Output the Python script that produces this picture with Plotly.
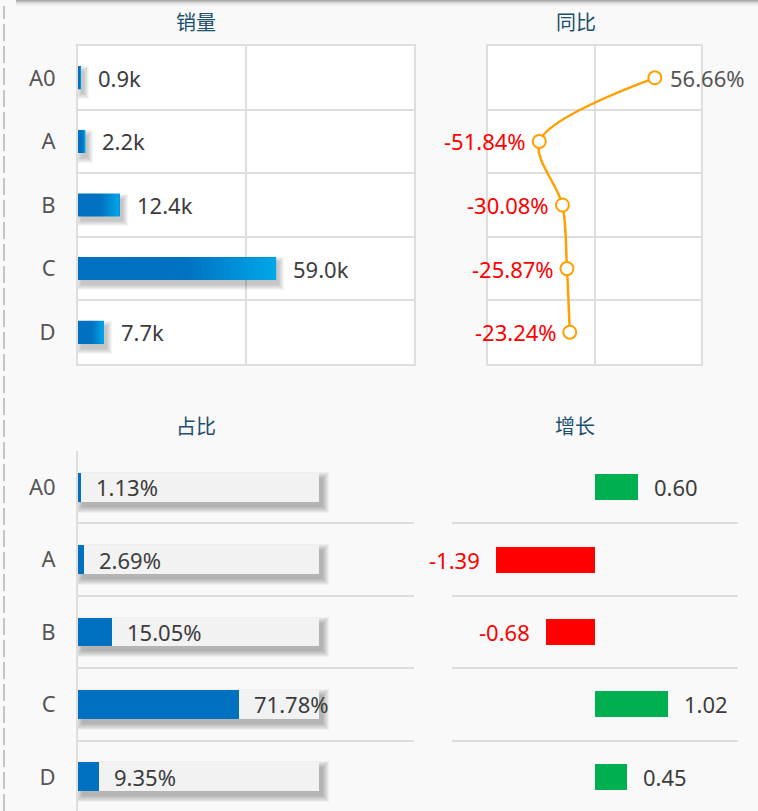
import plotly.graph_objects as go

# ---- data -------------------------------------------------------------
categories = ["A0", "A", "B", "C", "D"]
sales_k = [0.9, 2.2, 12.4, 59.0, 7.7]            # 销量 (thousands)
yoy_pct = [56.66, -51.84, -30.08, -25.87, -23.24]  # 同比 (%)
share_pct = [1.13, 2.69, 15.05, 71.78, 9.35]       # 占比 (%)
growth = [0.60, -1.39, -0.68, 1.02, 0.45]          # 增长

# ---- canvas helpers ---------------------------------------------------
W, H = 758, 811
FONT = "Noto Sans, Noto Sans CJK SC, sans-serif"
GRID = "#dedede"
TEXT = "#3c3c3c"
NEG = "#ff0000"
TITLE = "#1c4f6b"
LBL_SIZE = 22


def px(x):
    return x / W


def py(y):
    return 1 - y / H


pos = list(range(len(categories)))

# panel geometry (pixel boxes) and axis ranges
P1 = dict(x0=78, x1=414, y0=46, y1=364, xr=[0, 100])
P2 = dict(x0=488, x1=701, y0=46, y1=364, xr=[-100, 100])
P3 = dict(x0=78, x1=414, y0=451, y1=811, xr=[0, 150])
P4 = dict(x0=452, x1=738, y0=451, y1=811, xr=[-2, 2])
ROW_TOP = 63.6
ROW_BOT = 72.4
yr_top = [4.5, -0.5]
yr_bot = [-0.5 + (P3["y1"] - P3["y0"]) / ROW_BOT, -0.5]


def ux(panel, n_px):
    """pixel length -> data units along a panel's x axis"""
    return n_px * (panel["xr"][1] - panel["xr"][0]) / (panel["x1"] - panel["x0"])


fig = go.Figure()


def soft_shadow(values, width, panel, row_px, xa, ya, dx=4, dy=5, layers=6, alpha=0.035):
    """stacked translucent bars imitating a blurred drop shadow"""
    for k in range(0, layers):
        sx = ux(panel, k)
        sy = k / row_px
        fig.add_trace(go.Bar(
            x=[v + 2 * sx for v in values], y=pos, orientation="h",
            base=ux(panel, dx) - sx, width=width + 2 * sy,
            offset=-(width / 2) - sy + dy / row_px,
            marker=dict(color=f"rgba(0,0,0,{alpha})", line=dict(width=0)),
            xaxis=xa, yaxis=ya, hoverinfo="skip", showlegend=False,
        ))


# ---- panel 1 : 销量 ---------------------------------------------------
W1 = 0.36
soft_shadow(sales_k, W1, P1, ROW_TOP, "x", "y", dx=3, dy=5, layers=6, alpha=0.04)
fig.add_trace(go.Bar(
    x=sales_k, y=pos, orientation="h", width=W1,
    marker=dict(color="#0070c0", line=dict(width=0)),
    xaxis="x", yaxis="y", hoverinfo="x", showlegend=False,
))
# gradient face of each bar
for v, p in zip(sales_k, pos):
    fig.add_trace(go.Scatter(
        x=[0, v, v, 0, 0], y=[p - W1 / 2, p - W1 / 2, p + W1 / 2, p + W1 / 2, p - W1 / 2],
        mode="lines", fill="toself", line=dict(width=0),
        fillgradient=dict(type="horizontal",
                          colorscale=[[0, "#0070c0"], [0.55, "#0072c2"], [1, "#00a8e8"]]),
        xaxis="x", yaxis="y", hoverinfo="skip", showlegend=False,
    ))

# ---- panel 2 : 同比 ---------------------------------------------------
fig.add_trace(go.Scatter(
    x=yoy_pct, y=pos, mode="lines+markers",
    line=dict(color="#ffa000", width=2.5, shape="spline", smoothing=0.9),
    marker=dict(symbol="circle", size=13, color="white",
                line=dict(color="#ffa000", width=2)),
    xaxis="x2", yaxis="y2", hoverinfo="x", showlegend=False,
))

# ---- panel 3 : 占比 ---------------------------------------------------
W3 = 0.40
backdrop = [max(share_pct) * 1.5] * len(share_pct)
soft_shadow(backdrop, W3, P3, ROW_BOT, "x3", "y3", dx=4, dy=5, layers=7, alpha=0.045)
fig.add_trace(go.Bar(
    x=backdrop, y=pos, orientation="h", width=W3,
    marker=dict(color="#f2f2f2", line=dict(width=0)),
    xaxis="x3", yaxis="y3", hoverinfo="skip", showlegend=False,
))
fig.add_trace(go.Bar(
    x=share_pct, y=pos, orientation="h", width=W3,
    marker=dict(color="#0070c0", line=dict(width=0)),
    xaxis="x3", yaxis="y3", hoverinfo="x", showlegend=False,
))

# ---- panel 4 : 增长 ---------------------------------------------------
fig.add_trace(go.Bar(
    x=growth, y=pos, orientation="h", width=0.36,
    marker=dict(color=["#00b050" if g >= 0 else "#ff0000" for g in growth],
                line=dict(width=0)),
    xaxis="x4", yaxis="y4", hoverinfo="x", showlegend=False,
))

# ---- value labels -----------------------------------------------------
ann = []
LBL = dict(size=LBL_SIZE, family=FONT)
for v, p in zip(sales_k, pos):
    ann.append(dict(x=v, y=p, xref="x", yref="y", text=f"{v:.1f}k", showarrow=False,
                    xanchor="left", xshift=15, font=dict(color=TEXT, **LBL)))
for v, p in zip(yoy_pct, pos):
    ann.append(dict(x=v, y=p, xref="x2", yref="y2", text=f"{v:.2f}%", showarrow=False,
                    xanchor="left" if v >= 0 else "right", xshift=13 if v >= 0 else -11,
                    font=dict(color="#555555" if v >= 0 else NEG, **LBL)))
for v, p in zip(share_pct, pos):
    ann.append(dict(x=v, y=p, xref="x3", yref="y3", text=f"{v:.2f}%", showarrow=False,
                    xanchor="left", xshift=13, font=dict(color=TEXT, **LBL)))
for v, p in zip(growth, pos):
    ann.append(dict(x=v, y=p, xref="x4", yref="y4", text=f"{v:.2f}", showarrow=False,
                    xanchor="left" if v >= 0 else "right", xshift=14 if v >= 0 else -14,
                    font=dict(color=TEXT if v >= 0 else NEG, **LBL)))

# ---- panel titles -----------------------------------------------------
for txt, cx, cy in [("销量", 196, 22), ("同比", 576, 22), ("占比", 196, 426), ("增长", 575, 426)]:
    ann.append(dict(x=px(cx), y=py(cy), xref="paper", yref="paper", text=txt,
                    showarrow=False, xanchor="center", yanchor="middle",
                    font=dict(size=20, color=TITLE, family=FONT)))

# ---- decorations: white plot panels, top shadow, dashed left rule ------
shapes = []
for xa, ya in [("x", "y"), ("x2", "y2")]:
    shapes.append(dict(type="rect", xref=f"{xa} domain", yref=f"{ya} domain",
                       x0=0, x1=1, y0=0, y1=1, fillcolor="white",
                       line=dict(width=0), layer="below"))
for i, a in enumerate([0.32, 0.24, 0.15, 0.09, 0.05, 0.025]):
    shapes.append(dict(type="rect", xref="paper", yref="paper",
                       x0=px(16), x1=1, y0=py(i + 1), y1=py(i),
                       fillcolor=f"rgba(0,0,0,{a})", line=dict(width=0), layer="above"))
shapes.append(dict(type="line", xref="paper", yref="paper",
                   x0=px(4), x1=px(4), y0=0, y1=py(6),
                   line=dict(color="#c4c4c4", width=2, dash="17px,5px")))

boundaries = [p - 0.5 for p in pos] + [pos[-1] + 0.5]


def yaxis(panel, rng, labels, grid_boundaries=True, line=False):
    d = dict(domain=[py(panel["y1"]), py(panel["y0"])], range=rng,
             tickmode="array", tickvals=pos, ticktext=categories,
             showticklabels=labels, showgrid=False, zeroline=False,
             ticks="outside" if labels else "", ticklen=16, tickcolor="rgba(0,0,0,0)",
             tickfont=dict(size=LBL_SIZE, color="#555555", family=FONT),
             showline=line, linecolor=GRID, linewidth=2, fixedrange=True)
    if grid_boundaries:
        d["minor"] = dict(tickmode="array", tickvals=boundaries, showgrid=True,
                          gridcolor=GRID, gridwidth=2, ticks="")
    return d


def xaxis(panel, anchor, **kw):
    d = dict(domain=[px(panel["x0"]), px(panel["x1"])], range=panel["xr"], anchor=anchor,
             showticklabels=False, zeroline=False, showgrid=False, ticks="",
             fixedrange=True)
    d.update(kw)
    return d


fig.update_layout(
    width=W, height=H, margin=dict(l=0, r=0, t=0, b=0),
    paper_bgcolor="#f9f9f9", plot_bgcolor="rgba(0,0,0,0)",
    barmode="overlay", bargap=0, showlegend=False,
    font=dict(family=FONT),
    xaxis=xaxis(P1, "y", showgrid=True, dtick=50, tick0=0, gridcolor=GRID, gridwidth=2,
                showline=True, mirror=True, linecolor=GRID, linewidth=2),
    yaxis=dict(yaxis(P1, yr_top, True, line=True), mirror=True, anchor="x"),
    xaxis2=xaxis(P2, "y2", showgrid=True, dtick=100, tick0=0, gridcolor=GRID, gridwidth=1.5,
                 showline=True, mirror=True, linecolor=GRID, linewidth=1.5),
    yaxis2=dict(yaxis(P2, yr_top, False, line=True), mirror=True, anchor="x2", linewidth=1.5),
    xaxis3=xaxis(P3, "y3"),
    yaxis3=dict(yaxis(P3, yr_bot, True, line=True), anchor="x3"),
    xaxis4=xaxis(P4, "y4"),
    yaxis4=dict(yaxis(P4, yr_bot, False), anchor="x4"),
    annotations=ann, shapes=shapes,
)

fig.write_html("out.html")
